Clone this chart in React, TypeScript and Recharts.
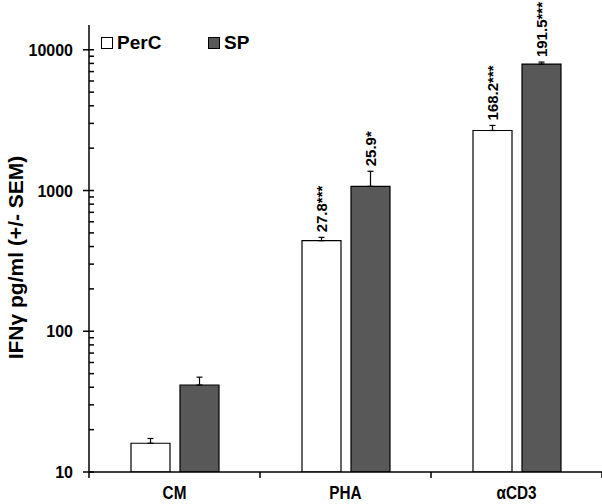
import { Bar, BarChart, ErrorBar, LabelList, Legend, XAxis, YAxis } from 'recharts'

const categories = ['CM', 'PHA', 'αCD3']
const percValues = [16, 440, 2670]
const percErr = [1.3, 25, 230]
const spValues = [41.5, 1070, 7920]
const spErr = [5.7, 300, 260]
const percLabels = ['', '27.8***', '168.2***']
const spLabels = ['', '25.9*', '191.5***']

const yMin = 10
const yMax = 15000
const majorTicks = [10, 100, 1000, 10000]
const minorSteps = [2, 3, 4, 5, 6, 7, 8, 9]
const yTicks = [
  ...majorTicks,
  ...[10, 100, 1000].flatMap((d) => minorSteps.map((s) => s * d)),
].sort((a, b) => a - b)

const FONT = "'Liberation Sans', Arial, sans-serif"
const DARK = '#585858'

const data = categories.map((name, i) => ({
  name,
  perc: percValues[i],
  percErr: [0, percErr[i]],
  sp: spValues[i],
  spErr: [0, spErr[i]],
}))

function YTick(props: any) {
  const { x, y, payload } = props
  const major = majorTicks.includes(payload.value)
  return (
    <g>
      <line x1={major ? x - 6 : x} x2={x + 5} y1={y} y2={y} stroke="#000" strokeWidth={1.5} />
      {major && (
        <text x={x - 16} y={y + 6} textAnchor="end" fontFamily={FONT} fontWeight="bold" fontSize={16} fill="#000">
          {payload.value}
        </text>
      )}
    </g>
  )
}

function XTick(props: any) {
  const { x, y, payload, index } = props
  const off = payload.offset ?? 0
  return (
    <g>
      {index === 0 && <line x1={x - off} x2={x - off} y1={y} y2={y + 6} stroke="#000" strokeWidth={1.5} />}
      <line x1={x + off} x2={x + off} y1={y} y2={y + 6} stroke="#000" strokeWidth={1.5} />
      <text
        transform={`translate(${x} ${y + 27}) scale(0.85 1)`}
        textAnchor="middle"
        fontFamily={FONT}
        fontWeight="bold"
        fontSize={18}
        fill="#000"
      >
        {payload.value}
      </text>
    </g>
  )
}

// rotated significance label sitting just above the error bar cap
function makeBarLabel(labels: string[], values: number[], errs: number[]) {
  return (props: any) => {
    const { x, y, width, height, index } = props
    const text = labels[index]
    if (!text) return null
    const v = values[index]
    const perDecade = height / Math.log10(v / yMin)
    const top = y - perDecade * Math.log10((v + errs[index]) / v)
    const cx = x + width / 2 + 6
    const ty = top - 5
    return (
      <text
        x={cx}
        y={ty}
        transform={`rotate(-90 ${cx} ${ty})`}
        fontFamily={FONT}
        fontWeight="bold"
        fontSize={15}
        fill="#000"
      >
        {text}
      </text>
    )
  }
}

function YLabel(props: any) {
  const { viewBox } = props
  const x = viewBox.x + 23
  const y = viewBox.y + viewBox.height / 2 + 9
  return (
    <text
      x={x}
      y={y}
      transform={`rotate(-90 ${x} ${y})`}
      textAnchor="middle"
      fontFamily={FONT}
      fontWeight="bold"
      fontSize={21}
      fill="#000"
    >
      IFNγ pg/ml (+/- SEM)
    </text>
  )
}

function LegendBox() {
  const item = (label: string, fill: string, width: number) => (
    <div style={{ display: 'flex', alignItems: 'center', width }}>
      <span
        style={{
          display: 'inline-block',
          width: 10,
          height: 10,
          border: '1px solid #000',
          background: fill,
          marginRight: 4,
        }}
      />
      <span style={{ fontFamily: FONT, fontWeight: 'bold', fontSize: 19, lineHeight: '20px', color: '#000' }}>{label}</span>
    </div>
  )
  return (
    <div style={{ display: 'flex' }}>
      {item('PerC', '#fff', 107)}
      {item('SP', DARK, 60)}
    </div>
  )
}

export default function App() {
  return (
    <div style={{ position: 'absolute', left: 0, top: 0, background: '#fff' }}>
      <BarChart
        width={602}
        height={504}
        data={data}
        margin={{ top: 25, right: 0, bottom: 0, left: 0 }}
        barSize={39}
        barGap={10}
      >
        <XAxis
          dataKey="name"
          height={32}
          axisLine={{ stroke: '#000', strokeWidth: 1.5 }}
          tickLine={false}
          tickSize={0}
          tickMargin={0}
          tick={<XTick />}
          interval={0}
        />
        <YAxis
          width={89}
          scale="log"
          domain={[yMin, yMax]}
          ticks={yTicks}
          interval={0}
          allowDataOverflow
          axisLine={{ stroke: '#000', strokeWidth: 1.5 }}
          tickLine={false}
          tickSize={0}
          tickMargin={0}
          tick={<YTick />}
          label={<YLabel />}
        />
        <Legend
          layout="vertical"
          align="center"
          verticalAlign="middle"
          content={<LegendBox />}
          wrapperStyle={{ position: 'absolute', left: 101, top: 33, width: 200, height: 22 }}
        />
        <Bar dataKey="perc" name="PerC" fill="#fff" stroke="#000" strokeWidth={1.2} isAnimationActive={false}>
          <ErrorBar dataKey="percErr" direction="y" width={3} stroke="#000" strokeWidth={1.2} />
          <LabelList dataKey="perc" content={makeBarLabel(percLabels, percValues, percErr)} />
        </Bar>
        <Bar dataKey="sp" name="SP" fill={DARK} stroke="#000" strokeWidth={1.2} isAnimationActive={false}>
          <ErrorBar dataKey="spErr" direction="y" width={3} stroke="#000" strokeWidth={1.2} />
          <LabelList dataKey="sp" content={makeBarLabel(spLabels, spValues, spErr)} />
        </Bar>
      </BarChart>
    </div>
  )
}
